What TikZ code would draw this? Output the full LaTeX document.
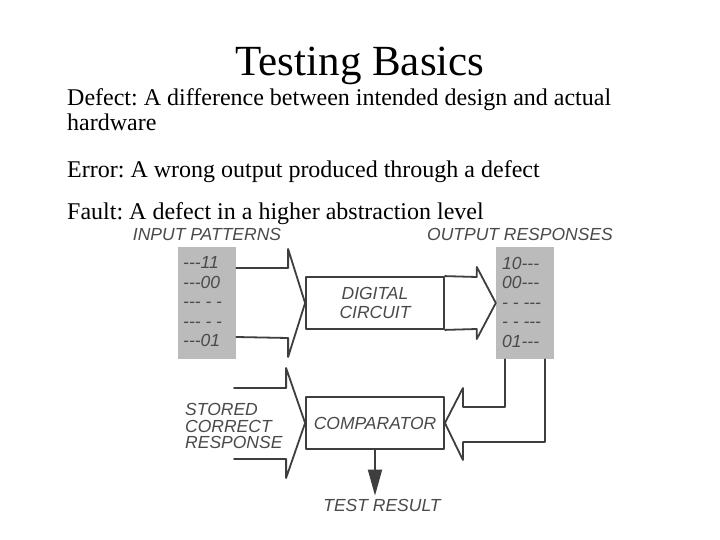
\documentclass[tikz,border=0pt]{standalone}
\usepackage{fontspec}
\setmainfont{Liberation Serif}
\newfontfamily\diagfont{Liberation Sans}[Ligatures=TeXOff]
\usetikzlibrary{arrows.meta,calc,positioning}
\definecolor{tbInk}{HTML}{000000}
\definecolor{tbLine}{HTML}{3E3E3E}
\definecolor{tbLabel}{HTML}{4A4A4A}
\definecolor{tbShade}{HTML}{BBBBBB}
\frenchspacing

\begin{document}
\begin{tikzpicture}[x=1pt,y=-1pt,>=Latex,line cap=round,line join=round]
\path[fill=white] (0,0) rectangle (720,540);
\tikzset{bodytext/.style={anchor=base west,text=tbInk,font=\fontsize{24}{24}\selectfont,inner sep=0pt},diaglabel/.style={text=tbLabel,font=\diagfont\itshape\fontsize{17.5}{17}\selectfont,inner sep=0pt},patlist/.style={text=tbLabel,font=\diagfont\itshape\fontsize{17.5}{19.5}\selectfont,align=left,anchor=west,inner sep=0pt},shadebox/.style={fill=tbShade,draw=none,minimum width=58pt,minimum height=112pt,inner sep=0pt},block/.style={draw=tbLine,fill=white,line width=1.8pt,minimum width=138pt,minimum height=52pt,inner sep=0pt,text=tbLabel,font=\diagfont\itshape\fontsize{17.5}{19}\selectfont,align=center},hollow/.style={draw=tbLine,line width=1.8pt}}
\node[anchor=base,text=tbInk,font=\fontsize{43}{43}\selectfont,inner sep=0pt] (title) at (360,76) {Testing Basics};
\node[bodytext] (defect) at (67,106) {Defect: A difference between intended design and actual};
\node[bodytext] (defecttwo) at (67,131) {hardware};
\node[bodytext] (error) at (67,178) {Error: A wrong output produced through a defect};
\node[bodytext] (fault) at (67,220) {Fault: A defect in a higher abstraction level};
\node[diaglabel] (inlabel) at (207,234) {INPUT PATTERNS};
\node[diaglabel] (outlabel) at (520,234) {OUTPUT RESPONSES};
\node[shadebox] (inpat) at (207,303) {};
\node[shadebox] (outpat) at (525,303) {};
\node[patlist] (inlist) at (183,302) {---11\\---00\\--- - -\\--- - -\\---01};
\node[patlist] (outlist) at (502,302) {10---\\00---\\- - ---\\- - ---\\01---};
\node[block] (circuit) at (375,303) {DIGITAL\\CIRCUIT};
\node[block] (comparator) at (375,423) {COMPARATOR};
\node[diaglabel,align=left,anchor=west,font=\diagfont\itshape\fontsize{17.5}{16.5}\selectfont] (stored) at (185,426) {STORED\\CORRECT\\RESPONSE};
\node[diaglabel,inner sep=3pt] (result) at (382,505) {TEST RESULT};
\draw[hollow] ($(inpat.east)+(0,-35)$) -- ($(circuit.west)+(-17,-35)$) -- ++(0,-19) -- (circuit.west) -- ($(circuit.west)+(-17,54)$) -- ++(0,-19) -- ($(inpat.east)+(0,34)$);
\draw[hollow] (circuit.north east) -- ($(outpat.west)+(-19,-26)$) -- ++(0,-10) -- (outpat.west) -- ($(outpat.west)+(-19,36)$) -- ++(0,-10) -- (circuit.south east);
\draw[hollow] ($(comparator.west)+(-71,-35)$) -- ($(comparator.west)+(-19,-35)$) -- ++(0,-20) -- (comparator.west) -- ($(comparator.west)+(-19,55)$) -- ++(0,-19) -- ($(comparator.west)+(-71,36)$);
\draw[hollow] ($(outpat.south)+(-20,0)$) |- ($(comparator.east)+(18,-16)$) -- ++(0,-19) -- (comparator.east) -- ($(comparator.east)+(18,37)$) -- ++(0,-18) -| ($(outpat.south)+(20,0)$);
\draw[draw=tbLine,line width=1.8pt,-{Triangle[length=26pt,width=14pt,fill=tbLine]}] (comparator.south) -- (comparator.south |- result.north);
\end{tikzpicture}
\end{document}
